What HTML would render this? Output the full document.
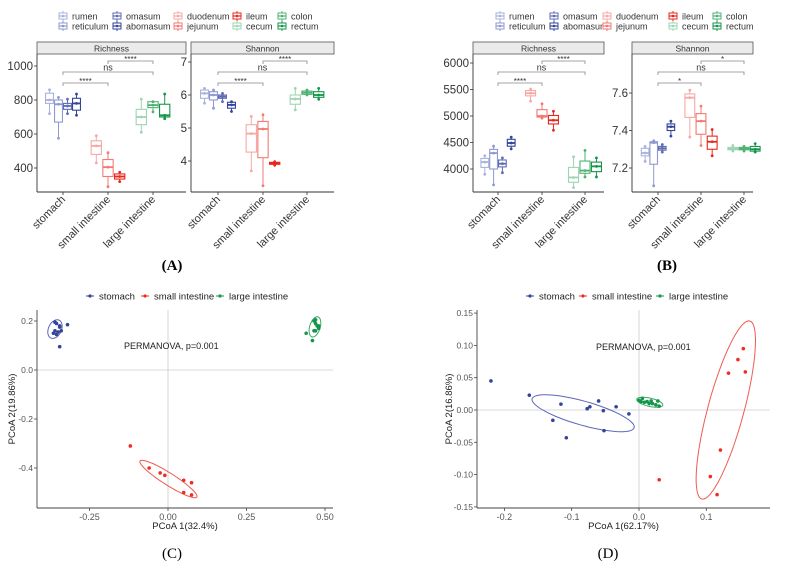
<!DOCTYPE html>
<html><head><meta charset="utf-8"><style>
html,body{margin:0;padding:0;background:#fff;}
svg{display:block;font-family:"Liberation Sans",sans-serif;}
</style></head><body>
<svg id="fig" width="791" height="571" viewBox="0 0 791 571" xmlns="http://www.w3.org/2000/svg"></svg>
<script>
// ---------- DATA ----------
const groups=['rumen','reticulum','omasum','abomasum','duodenum','jejunum','ileum','cecum','colon','rectum'];
const groupCat=[0,0,0,0,1,1,1,2,2,2];
const categories=['stomach','small intestine','large intestine'];
const groupColors=['#aab2dc','#8f99cf','#5f6cb6','#34449a','#f6a9a4','#f27a73','#e8271d','#9fd4b2','#4fb273','#13964a'];
const aRichLo=[720,575,720,710,430,290,320,610,730,690];
const aRichQ1=[780,670,745,740,480,350,335,655,755,700];
const aRichMed=[800,775,765,780,530,405,350,700,770,710];
const aRichQ3=[840,800,780,810,560,450,365,745,790,775];
const aRichHi=[860,815,805,835,590,490,375,805,790,835];
const aShLo=[5.75,5.6,5.8,5.5,3.7,3.25,3.87,5.55,6.0,5.87];
const aShQ1=[5.9,5.85,5.9,5.6,4.27,4.1,3.9,5.72,6.02,5.93];
const aShMed=[6.05,6.0,5.95,5.7,4.83,4.97,3.93,5.88,6.07,6.0];
const aShQ3=[6.15,6.1,6.0,5.78,5.1,5.2,3.96,6.0,6.12,6.1];
const aShHi=[6.2,6.15,6.05,5.8,5.35,5.4,3.98,6.2,6.15,6.2];
const bRichLo=[3900,3700,3930,4380,5280,4960,4730,3650,3850,3850];
const bRichQ1=[4030,4000,4040,4430,5380,4980,4850,3750,3920,3950];
const bRichMed=[4130,4300,4100,4490,5430,5000,4920,3840,3970,4050];
const bRichQ3=[4200,4370,4170,4560,5480,5120,5010,4030,4150,4130];
const bRichHi=[4250,4430,4210,4600,5510,5230,5090,4230,4350,4210];
const bShLo=[7.235,7.105,7.285,7.37,7.365,7.32,7.265,7.29,7.29,7.285];
const bShQ1=[7.265,7.22,7.295,7.40,7.47,7.38,7.30,7.297,7.297,7.29];
const bShMed=[7.28,7.335,7.305,7.42,7.575,7.45,7.34,7.303,7.303,7.30];
const bShQ3=[7.305,7.34,7.315,7.435,7.595,7.49,7.37,7.31,7.31,7.315];
const bShHi=[7.315,7.345,7.325,7.45,7.615,7.53,7.405,7.32,7.315,7.33];
const aRichTicks=[400,600,800,1000];
const aShTicks=[4,5,6,7];
const bRichTicks=[4000,4500,5000,5500,6000];
const bShTicks=[7.2,7.4,7.6];
const aSig=['****','ns','****'];
const bRichSig=['****','ns','****'];
const bShSig=['*','ns','*'];
const pcoaGroups=['stomach','small intestine','large intestine'];
const pcoaColors=['#34449a','#ee2d24','#13964a'];
const cStomX=[-0.36,-0.355,-0.345,-0.345,-0.36,-0.365,-0.35,-0.355,-0.34,-0.32,-0.345];
const cStomY=[0.195,0.19,0.18,0.175,0.16,0.15,0.155,0.145,0.16,0.185,0.095];
const cSmallX=[-0.12,-0.06,-0.025,-0.01,0.05,0.075,0.05,0.075];
const cSmallY=[-0.31,-0.40,-0.42,-0.43,-0.45,-0.46,-0.5,-0.51];
const cLargeX=[0.44,0.46,0.465,0.47,0.475,0.48,0.465,0.47,0.48,0.47];
const cLargeY=[0.15,0.12,0.2,0.19,0.18,0.17,0.16,0.16,0.18,0.205];
const cXTicks=[-0.25,0,0.25,0.5];
const cXTickLabels=['-0.25','0.00','0.25','0.50'];
const cYTicks=[-0.4,-0.2,0,0.2];
const cYTickLabels=['-0.4','-0.2','0.0','0.2'];
const cEll=[[-0.36,0.167,0.0127,0.0367,0.019,-0.0102],[0.0015,-0.445,0.0905,-0.0735,-0.0102,-0.0208],[0.468,0.176,0.0096,0.0408,0.016,-0.006]];
const dStomX=[-0.22,-0.163,-0.116,-0.128,-0.108,-0.077,-0.073,-0.06,-0.053,-0.052,-0.034,-0.015];
const dStomY=[0.045,0.023,0.009,-0.016,-0.043,0.002,0.005,0.014,-0.001,-0.032,0.005,-0.006];
const dSmallX=[0.155,0.147,0.158,0.133,0.121,0.106,0.116,0.03];
const dSmallY=[0.095,0.078,0.059,0.057,-0.062,-0.103,-0.131,-0.108];
const dLargeX=[0.0,0.005,0.008,0.012,0.018,0.02,0.025,0.028,0.03,0.015,0.003];
const dLargeY=[0.015,0.018,0.012,0.013,0.014,0.01,0.008,0.014,0.006,0.01,0.013];
const dXTicks=[-0.2,-0.1,0,0.1];
const dXTickLabels=['-0.2','-0.1','0.0','0.1'];
const dYTicks=[-0.15,-0.1,-0.05,0,0.05,0.1,0.15];
const dYTickLabels=['-0.15','-0.10','-0.05','0.00','0.05','0.10','0.15'];
const dEll=[[-0.083,-0.005,0.0758,-0.0224,-0.0049,-0.0178],[0.129,0.0,0.0357,0.1378,0.0259,-0.0073],[0.016,0.012,0.0193,-0.0046,-0.0015,-0.0062]];

// ---------- DRAW ----------
const NS='http://www.w3.org/2000/svg';
const svg=document.getElementById('fig');
function mk(tag,attrs,parent,text){const e=document.createElementNS(NS,tag);for(const k in attrs)e.setAttribute(k,attrs[k]);if(text!==undefined)e.textContent=text;(parent||svg).appendChild(e);return e;}
function lin(d0,d1,r0,r1){return v=>r0+(v-d0)*(r1-r0)/(d1-d0);}

function boxLegend(ox,cols){
  for(let i=0;i<10;i++){
    const col=Math.floor(i/2)%5, row=i%2;
    const gx=ox+cols[col], gy=row?26:16;
    const g=mk('g',{});
    
    
    const c=groupColors[i];
    mk('line',{x1:gx,y1:gy-5,x2:gx,y2:gy+5,stroke:c,'stroke-width':1},g);
    mk('rect',{x:gx-4,y:gy-3,width:8,height:6,fill:'#fff',stroke:c,'stroke-width':1},g);
    mk('line',{x1:gx-4,y1:gy,x2:gx+4,y2:gy,stroke:c,'stroke-width':1.2},g);
    mk('circle',{cx:gx,cy:gy,r:1.3,fill:c},g);
    mk('text',{x:gx+9,y:gy+3.3,'font-size':9,fill:'#333'},g,groups[i]);
  }
}

function boxPanel(p){
  const y=lin(p.d0,p.d1,p.r0,p.r1);
  const g=mk('g',{});
  
  
  mk('rect',{x:p.x0,y:42,width:p.x1-p.x0,height:12,fill:'#ebebeb',stroke:'#555','stroke-width':0.8},g);
  mk('text',{x:(p.x0+p.x1)/2,y:51.5,'font-size':8.5,'text-anchor':'middle',fill:'#333'},g,p.title);
  mk('line',{x1:p.x0,y1:54,x2:p.x0,y2:192,stroke:'#333','stroke-width':0.9},g);
  mk('line',{x1:p.x0,y1:192,x2:p.x1,y2:192,stroke:'#333','stroke-width':0.9},g);
  p.ticks.forEach(t=>{const ty=y(t);
    mk('line',{x1:p.x0-3,y1:ty,x2:p.x0,y2:ty,stroke:'#333','stroke-width':0.8},g);
    mk('text',{x:p.x0-4,y:ty+4,'font-size':11.5,'text-anchor':'end',fill:'#333'},g,String(t));});
  const gap=p.cat[1]-p.cat[0];
  categories.forEach((c,ci)=>{
    const cx=p.cat[ci];
    mk('line',{x1:cx,y1:192,x2:cx,y2:195,stroke:'#333','stroke-width':0.8},g);
    const t=mk('text',{x:cx+3,y:200,'font-size':11,'text-anchor':'end',fill:'#333',transform:`rotate(-45 ${cx+3} 200)`},g,c);
    
    
  });
  for(let i=0;i<10;i++){
    const ci=groupCat[i];
    const members=groupCat.map((v,k)=>v===ci?k:-1).filter(k=>k>=0);
    const n=members.length, idx=members.indexOf(i);
    const sp=gap*(n===4?0.2:0.26);
    const bx=p.cat[ci]+(idx-(n-1)/2)*sp, bw=sp*0.88;
    const c=groupColors[i];
    const bg=mk('g',{},g);
    
    
    mk('line',{x1:bx,y1:y(p.lo[i]),x2:bx,y2:y(p.q1[i]),stroke:c,'stroke-width':1},bg);
    mk('line',{x1:bx,y1:y(p.q3[i]),x2:bx,y2:y(p.hi[i]),stroke:c,'stroke-width':1},bg);
    mk('rect',{x:bx-bw/2,y:y(p.q3[i]),width:bw,height:Math.max(1,y(p.q1[i])-y(p.q3[i])),fill:'#fff',stroke:c,'stroke-width':1.1},bg);
    mk('line',{x1:bx-bw/2,y1:y(p.med[i]),x2:bx+bw/2,y2:y(p.med[i]),stroke:c,'stroke-width':1.8},bg);
    [p.lo[i],p.med[i],p.hi[i]].forEach(v=>mk('circle',{cx:bx,cy:y(v),r:1.4,fill:c},bg));
  }
  const br=[[0,1,83],[0,2,72],[1,2,61]];
  br.forEach((b,k)=>{
    const x1=p.cat[b[0]],x2=p.cat[b[1]],yy=b[2];
    mk('path',{d:`M${x1},${yy+3}V${yy}H${x2}V${yy+3}`,fill:'none',stroke:'#888','stroke-width':0.8},g);
    const s=p.sig[k];
    mk('text',{x:(x1+x2)/2,y:s==='ns'?yy-1.5:yy+1,'font-size':s==='ns'?9:8,'text-anchor':'middle',fill:'#333'},g,s);
  });
}

function pcoa(p){
  const X=lin(0,1,p.x00,p.x00+p.xs), Y=lin(0,1,p.y00,p.y00-p.ys);
  const g=mk('g',{});
  
  
  pcoaGroups.forEach((nm,i)=>{
    const lg=mk('g',{},g);
    
    
    mk('line',{x1:p.leg[i]-4,y1:296,x2:p.leg[i]+4,y2:296,stroke:pcoaColors[i],'stroke-width':1},lg);
    mk('circle',{cx:p.leg[i],cy:296,r:1.6,fill:pcoaColors[i]},lg);
    mk('text',{x:p.leg[i]+9,y:299.5,'font-size':9.5,fill:'#222'},lg,nm);
  });
  mk('line',{x1:X(0),y1:p.top,x2:X(0),y2:p.bot,stroke:'#ccc','stroke-width':0.8},g);
  mk('line',{x1:p.left,y1:Y(0),x2:p.right,y2:Y(0),stroke:'#ccc','stroke-width':0.8},g);
  mk('line',{x1:p.left,y1:p.top,x2:p.left,y2:p.bot,stroke:'#444','stroke-width':0.9},g);
  mk('line',{x1:p.left,y1:p.bot,x2:p.right,y2:p.bot,stroke:'#444','stroke-width':0.9},g);
  p.xt.forEach((t,i)=>{mk('line',{x1:X(t),y1:p.bot,x2:X(t),y2:p.bot+3,stroke:'#444','stroke-width':0.8},g);
    mk('text',{x:X(t),y:p.bot+12,'font-size':9,'text-anchor':'middle',fill:'#555'},g,p.xl[i]);});
  p.yt.forEach((t,i)=>{mk('line',{x1:p.left-3,y1:Y(t),x2:p.left,y2:Y(t),stroke:'#444','stroke-width':0.8},g);
    mk('text',{x:p.left-4,y:Y(t)+3,'font-size':8.5,'text-anchor':'end',fill:'#555'},g,p.yl[i]);});
  mk('text',{x:(p.left+p.right)/2,y:p.bot+21,'font-size':9.5,'text-anchor':'middle',fill:'#222'},g,p.xTitle);
  mk('text',{x:p.ytx,y:(p.top+p.bot)/2,'font-size':9.5,'text-anchor':'middle',fill:'#222',transform:`rotate(-90 ${p.ytx} ${(p.top+p.bot)/2})`},g,p.yTitle);
  mk('text',{x:p.permX,y:p.permY,'font-size':9,fill:'#222'},g,'PERMANOVA, p=0.001');
  p.ell.forEach((e,i)=>{
    let d='';
    for(let k=0;k<=72;k++){const t=k/72*2*Math.PI;
      const vx=e[0]+e[2]*Math.cos(t)+e[4]*Math.sin(t), vy=e[1]+e[3]*Math.cos(t)+e[5]*Math.sin(t);
      d+=(k?'L':'M')+X(vx).toFixed(1)+','+Y(vy).toFixed(1);}
    const el=mk('path',{d:d+'Z',fill:'none',stroke:['#5b67b8','#f05a50','#3aa865'][i],'stroke-width':1},g);
    
    
  });
  p.pts.forEach((s,i)=>{s[0].forEach((vx,k)=>{
    const c=mk('circle',{cx:X(vx),cy:Y(s[1][k]),r:1.8,fill:pcoaColors[i]},g);
    
    
  });});
}

boxLegend(63,[0,54,115,174,219]);
boxLegend(500,[0,54,107,173,217]);
boxPanel({name:'panel-a-richness',title:'Richness',x0:37,x1:186,d0:1000,d1:400,r0:66,r1:168,ticks:aRichTicks,cat:[63,108,153],lo:aRichLo,q1:aRichQ1,med:aRichMed,q3:aRichQ3,hi:aRichHi,sig:aSig});
boxPanel({name:'panel-a-shannon',title:'Shannon',x0:191,x1:334,d0:7,d1:4,r0:62,r1:161,ticks:aShTicks,cat:[218,263,307],lo:aShLo,q1:aShQ1,med:aShMed,q3:aShQ3,hi:aShHi,sig:aSig});
boxPanel({name:'panel-b-richness',title:'Richness',x0:473,x1:604,d0:6000,d1:4000,r0:63,r1:169,ticks:bRichTicks,cat:[498,542,585],lo:bRichLo,q1:bRichQ1,med:bRichMed,q3:bRichQ3,hi:bRichHi,sig:bRichSig});
boxPanel({name:'panel-b-shannon',title:'Shannon',x0:632,x1:753,d0:7.6,d1:7.2,r0:93,r1:168,ticks:bShTicks,cat:[658,701,744],lo:bShLo,q1:bShQ1,med:bShMed,q3:bShQ3,hi:bShHi,sig:bShSig});

pcoa({name:'panel-c-pcoa',x00:168,xs:314,y00:370,ys:245,left:37,right:333,top:310,bot:508,leg:[90,145,220],
  xt:cXTicks,xl:cXTickLabels,yt:cYTicks,yl:cYTickLabels,xTitle:'PCoA 1(32.4%)',yTitle:'PCoA 2(19.86%)',ytx:15,permX:124,permY:349,
  ell:cEll,pts:[[cStomX,cStomY],[cSmallX,cSmallY],[cLargeX,cLargeY]]});
pcoa({name:'panel-d-pcoa',x00:639,xs:673,y00:410,ys:646,left:477,right:770,top:310,bot:508,leg:[530,583,660],
  xt:dXTicks,xl:dXTickLabels,yt:dYTicks,yl:dYTickLabels,xTitle:'PCoA 1(62.17%)',yTitle:'PCoA 2(16.86%)',ytx:452,permX:596,permY:350,
  ell:dEll,pts:[[dStomX,dStomY],[dSmallX,dSmallY],[dLargeX,dLargeY]]});

[['(A)',172,270],['(B)',667,270],['(C)',172,558],['(D)',608,558]].forEach(l=>{
  const t=mk('text',{x:l[1],y:l[2],'font-size':15,'text-anchor':'middle',fill:'#000','font-family':'Liberation Serif, serif','font-weight':l[0]==='(A)'||l[0]==='(B)'?'bold':'normal'},svg,l[0]);
  
  
});
</script>
</body></html>
